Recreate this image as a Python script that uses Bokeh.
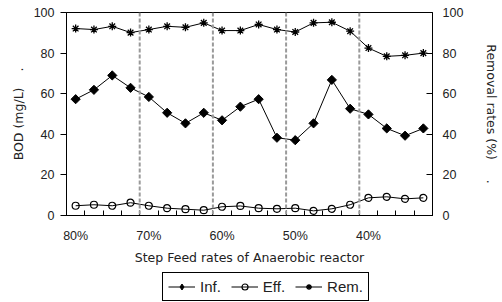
import numpy as np
from bokeh.plotting import figure
from bokeh.layouts import column
from bokeh.models import (Range1d, LinearAxis, FixedTicker, Span, Legend, LegendItem)
from bokeh.embed import file_html
from bokeh.resources import INLINE

# ---- data ----
stage_labels = ["80%", "70%", "60%", "50%", "40%"]
points_per_stage = 4
inf = [57.3, 61.9, 69.0, 62.9, 58.4, 50.6, 45.4, 50.6, 46.9, 53.6,
       57.3, 38.3, 37.1, 45.4, 66.8, 52.6, 49.8, 42.9, 39.3, 42.9]
eff = [4.8, 5.3, 4.8, 6.3, 4.8, 3.6, 3.1, 2.6, 4.3, 4.7,
       3.6, 3.3, 3.6, 2.3, 3.3, 5.3, 8.7, 9.2, 8.2, 8.7]
rem = [92.1, 91.6, 93.2, 90.1, 91.6, 93.2, 92.7, 94.9, 91.1, 91.1,
       94.1, 91.6, 90.4, 94.9, 95.2, 90.8, 82.5, 78.4, 78.9, 80.0]
y_ticks = [0, 20, 40, 60, 80, 100]
series_names = ["Inf.", "Eff.", "Rem."]

n = len(inf)
x = list(range(n))
FONT = "Liberation Sans"
LFONT = "DejaVu Sans"
TXT = "#222222"
BL, BR = 66, 60

p = figure(width=502, height=272, output_backend="svg", toolbar_location=None,
           x_range=Range1d(-0.5, n - 0.5), y_range=Range1d(0, 100),
           min_border_left=BL, min_border_right=BR, min_border_top=12,
           min_border_bottom=57)
p.background_fill_color = "white"
p.border_fill_color = "white"
p.outline_line_color = "black"
p.outline_line_width = 1
p.grid.visible = False

# x axis
stage_pos = [i * points_per_stage for i in range(len(stage_labels))]
xax = p.xaxis[0]
xax.ticker = FixedTicker(ticks=stage_pos,
                         minor_ticks=[i - 0.5 for i in range(n + 1)])
xax.major_label_overrides = {pos: lab for pos, lab in zip(stage_pos, stage_labels)}
xax.major_tick_line_color = None
xax.major_tick_in = 0
xax.major_tick_out = 0
xax.minor_tick_in = 5
xax.minor_tick_out = 0
xax.minor_tick_line_color = "black"
xax.axis_line_color = "black"
xax.major_label_text_font = FONT
xax.major_label_text_font_size = "12.5px"
xax.major_label_text_color = TXT
xax.major_label_standoff = 13
xax.axis_label = "Step Feed rates of Anaerobic reactor"
xax.axis_label_text_font = LFONT
xax.axis_label_text_font_size = "12.5px"
xax.axis_label_text_font_style = "normal"
xax.axis_label_text_color = TXT
xax.axis_label_standoff = 4

# left y axis
yax = p.yaxis[0]
yax.ticker = FixedTicker(ticks=y_ticks)
yax.minor_tick_line_color = None
yax.major_tick_in = 0
yax.major_tick_out = 6
yax.major_label_text_font = FONT
yax.major_label_text_font_size = "12.5px"
yax.major_label_text_color = TXT
yax.major_label_standoff = 6
yax.axis_label = "BOD (mg/L)\u00a0\u00a0\u00a0\u00a0."
yax.axis_label_text_font = LFONT
yax.axis_label_text_font_size = "12.5px"
yax.axis_label_text_font_style = "normal"
yax.axis_label_text_color = TXT
yax.axis_label_standoff = 5

# right y axis
p.extra_y_ranges = {"rem": Range1d(0, 100)}
rax = LinearAxis(y_range_name="rem", ticker=FixedTicker(ticks=y_ticks))
rax.minor_tick_line_color = None
rax.major_tick_in = 6
rax.major_tick_out = 0
rax.major_label_text_font = FONT
rax.major_label_text_font_size = "12.5px"
rax.major_label_text_color = TXT
rax.major_label_standoff = 10
rax.axis_label = "Removal rates (%)\u00a0\u00a0\u00a0\u00a0\u00a0."
rax.axis_label_text_font = LFONT
rax.axis_label_text_font_size = "12.5px"
rax.axis_label_text_font_style = "normal"
rax.axis_label_text_color = TXT
rax.axis_label_standoff = 18
rax.axis_label_orientation = "vertical"
p.add_layout(rax, "right")

# stage separators
for k in range(1, len(stage_labels)):
    p.add_layout(Span(location=k * points_per_stage - 0.5, dimension="height",
                      line_color="#9a9a9a", line_width=2, line_dash="4 2"))


def draw_series(fig, rem_range=None, inf_marker="square", inf_angle=np.pi / 4,
                inf_size=6.5, eff_size=7, rem_size=8):
    kw = {"y_range_name": rem_range} if rem_range else {}
    l1 = fig.line(x, inf, line_color="black", line_width=1)
    m1 = fig.scatter(x, inf, marker=inf_marker, angle=inf_angle, size=inf_size,
                     fill_color="black", line_color="black")
    l2 = fig.line(x, eff, line_color="black", line_width=1)
    m2 = fig.scatter(x, eff, marker="circle", size=eff_size, fill_color=None,
                     line_color="black", line_width=1.2)
    l3 = fig.line(x, rem, line_color="black", line_width=1, **kw)
    m3 = fig.scatter(x, rem, marker="asterisk", size=rem_size, line_color="black",
                     line_width=1.3, **kw)
    return [[l1, m1], [l2, m2], [l3, m3]]


draw_series(p, "rem")

# legend strip: series drawn off-view, only their legend glyphs show
q = figure(width=502, height=30, output_backend="svg", toolbar_location=None,
           x_range=Range1d(-0.5, n - 0.5), y_range=Range1d(1000, 1001),
           x_axis_location=None, y_axis_location=None,
           min_border_left=BL, min_border_right=BR, min_border_top=0,
           min_border_bottom=0, outline_line_color=None)
q.grid.visible = False
rends = draw_series(q, inf_marker="diamond", inf_angle=0, inf_size=9,
                    eff_size=7, rem_size=8)
legend = Legend(items=[LegendItem(label=nm, renderers=r) for nm, r in zip(series_names, rends)],
                orientation="horizontal", location=(163 - BL - 1, 1),
                glyph_width=27, glyph_height=15, label_standoff=5, spacing=10,
                padding=5, margin=0,
                label_text_font=FONT, label_text_font_size="15px",
                label_text_color=TXT, label_height=15,
                border_line_color="black", border_line_alpha=1, border_line_width=1,
                background_fill_color="white", background_fill_alpha=1)
q.add_layout(legend, "center")

open("out.html", "w").write(file_html(column(p, q, spacing=0), INLINE))
